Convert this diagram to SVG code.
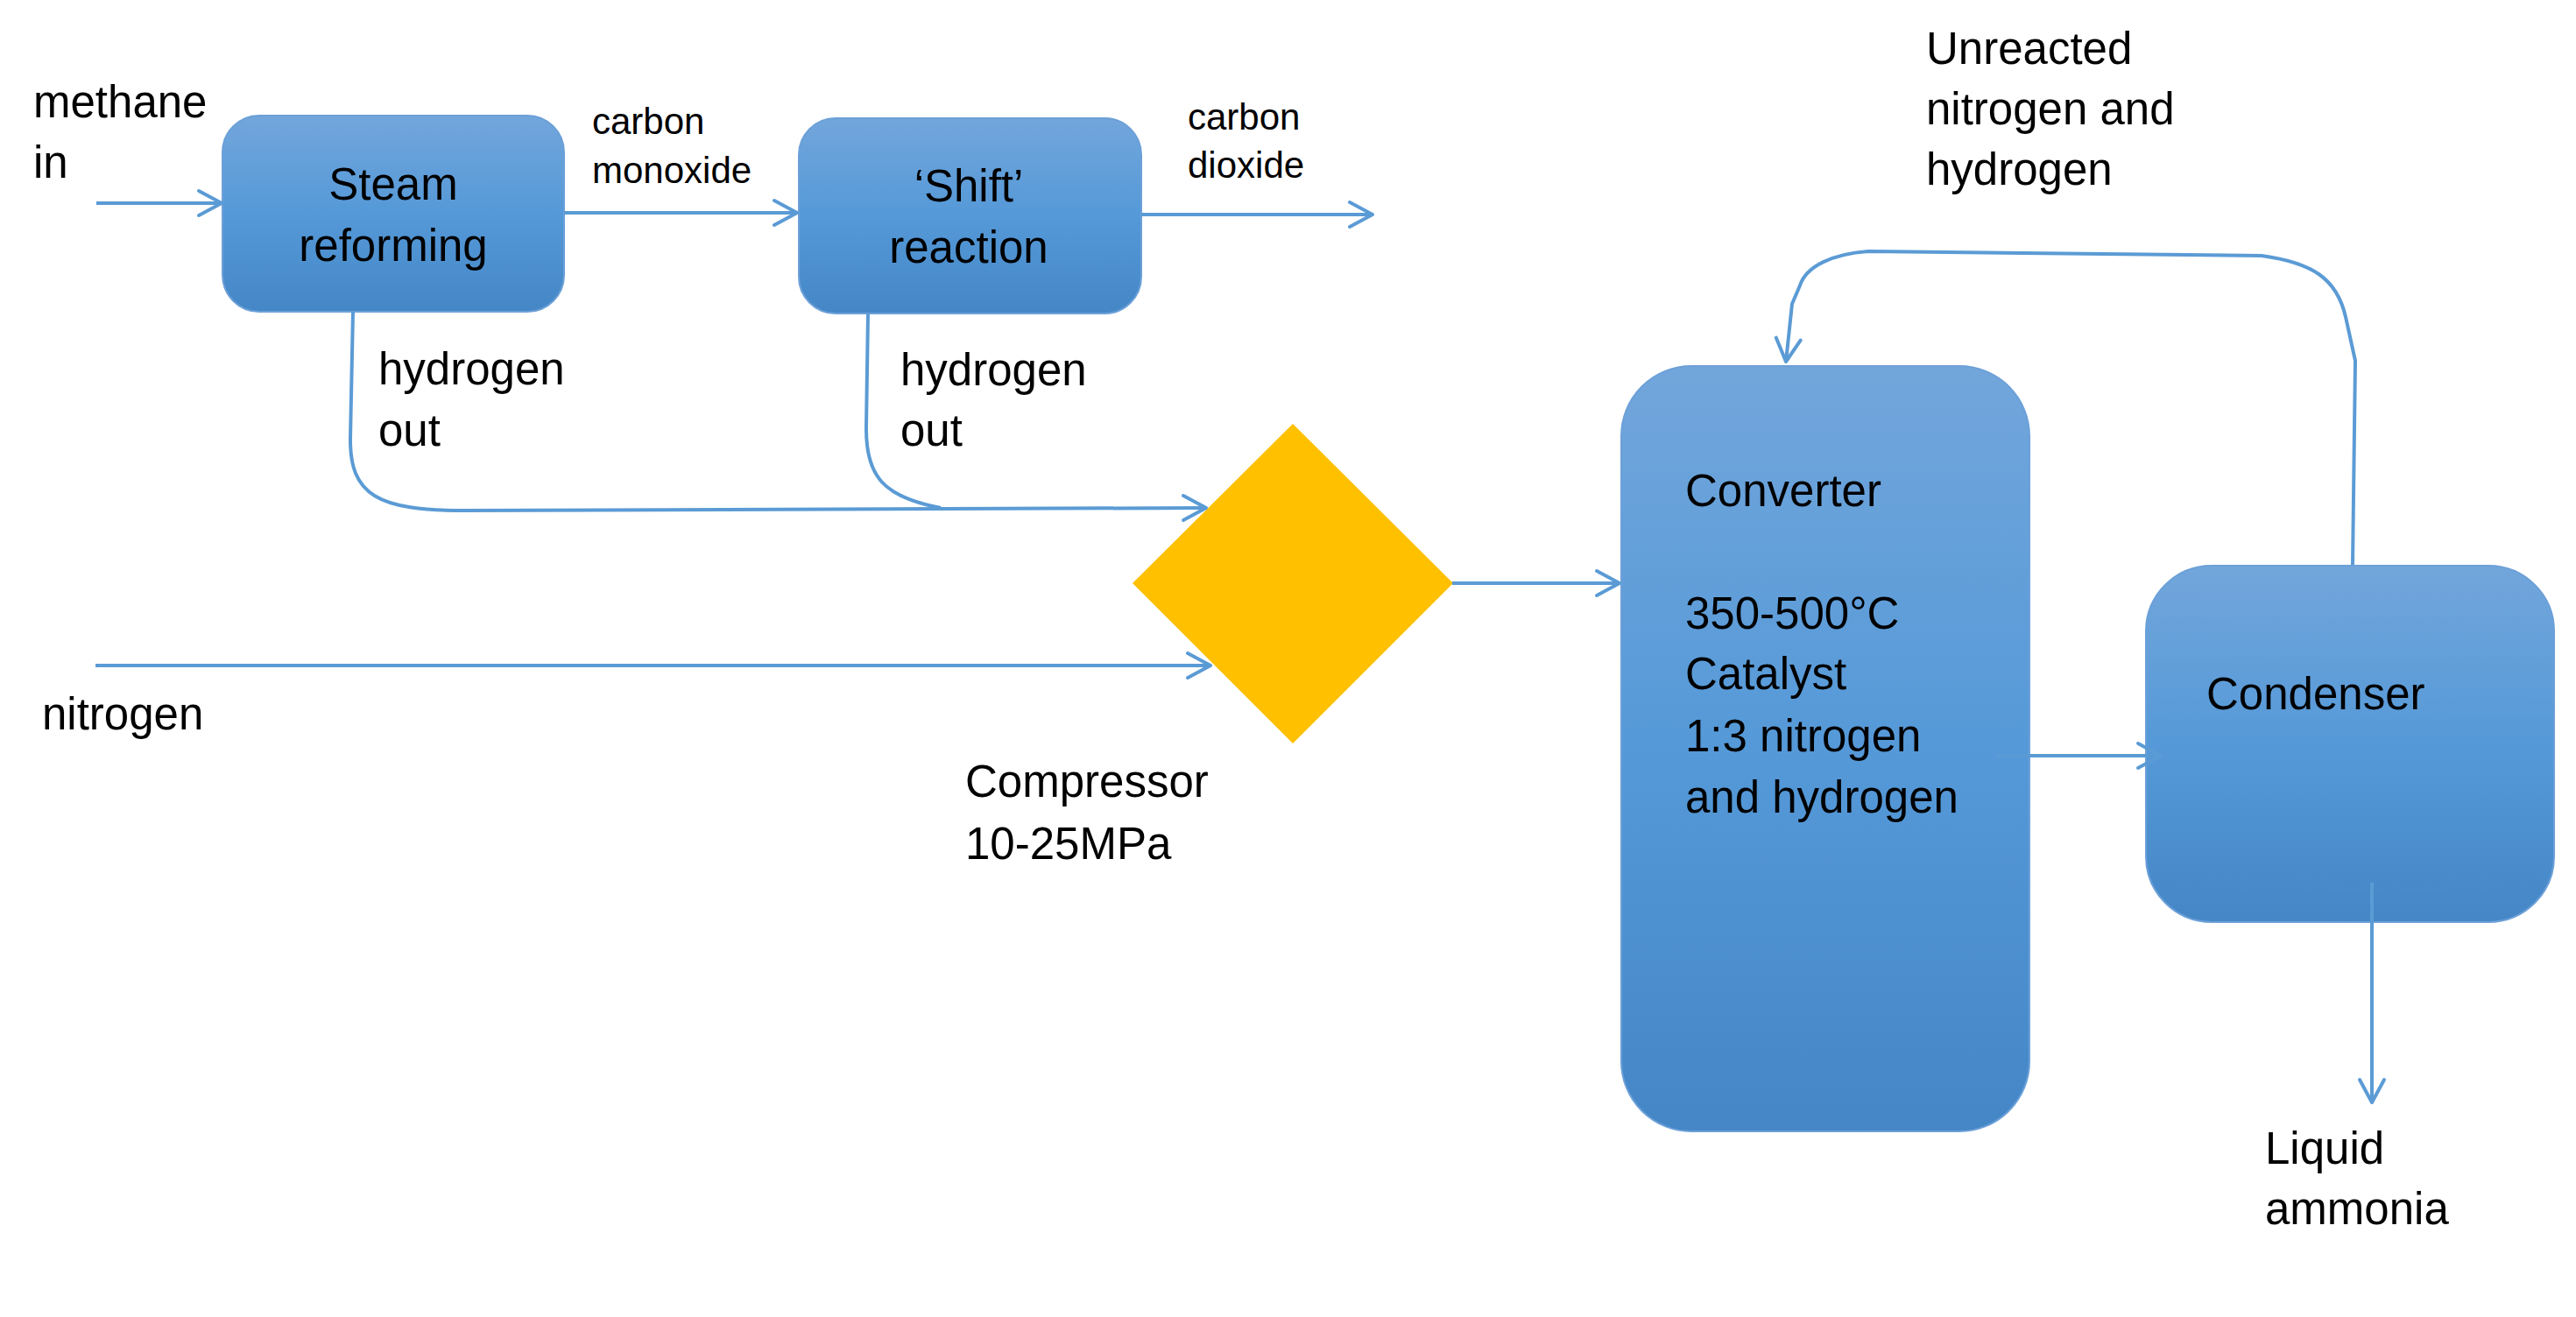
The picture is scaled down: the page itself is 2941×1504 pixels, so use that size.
<svg xmlns="http://www.w3.org/2000/svg" width="2941" height="1504" viewBox="0 0 2941 1504">
<defs>
<linearGradient id="blueGrad" x1="0" y1="0" x2="0" y2="1">
<stop offset="0" stop-color="#72A6DB"/>
<stop offset="0.5" stop-color="#5599D8"/>
<stop offset="1" stop-color="#4587C6"/>
</linearGradient>
<marker id="arrow" markerUnits="userSpaceOnUse" viewBox="0 0 34 34" refX="29" refY="17" markerWidth="34" markerHeight="34" orient="auto">
<path d="M3,3 L29,17 L3,31" fill="none" stroke="#5B9BD5" stroke-width="4" stroke-linecap="round" stroke-linejoin="round"/>
</marker>
<style>
.box{fill:url(#blueGrad);stroke:#6CA0D8;stroke-width:2}
.conn{fill:none;stroke:#5B9BD5;stroke-width:4;stroke-linejoin:round}
.arr{marker-end:url(#arrow)}
.big{font-family:"Liberation Sans",Arial,sans-serif;font-size:51px;fill:#000}
.small{font-family:"Liberation Sans",Arial,sans-serif;font-size:42px;fill:#000}
.mid{text-anchor:middle}
</style>
</defs>
<rect width="2941" height="1504" fill="#fff"/>

<g id="steam-reforming">
<rect class="box" x="254" y="132" width="390" height="224" rx="42" ry="42"/>
<text class="big mid" x="449" y="228">Steam</text>
<text class="big mid" x="449" y="298">reforming</text>
</g>

<g id="shift-reaction">
<rect class="box" x="912" y="135" width="391" height="223" rx="42" ry="42"/>
<text class="big mid" x="1106" y="230">‘Shift’</text>
<text class="big mid" x="1106" y="300">reaction</text>
</g>

<g id="compressor">
<polygon points="1476,484 1659,666 1476,849 1293,666" fill="#FFC000"/>
<text class="big" x="1102" y="910">Compressor</text>
<text class="big" x="1102" y="981">10-25MPa</text>
</g>

<g id="converter">
<rect class="box" x="1851" y="418" width="466" height="874" rx="80" ry="80"/>
<text class="big" x="1924" y="578">Converter</text>
<text class="big" x="1924" y="718">350-500°C</text>
<text class="big" x="1924" y="787">Catalyst</text>
<text class="big" x="1924" y="858">1:3 nitrogen</text>
<text class="big" x="1924" y="928">and hydrogen</text>
</g>

<g id="condenser">
<rect class="box" x="2450" y="646" width="466" height="407" rx="75" ry="75"/>
<text class="big" x="2519" y="810">Condenser</text>
</g>

<g id="connectors">
<path class="conn arr" d="M110,232 L253,232"/>
<path class="conn arr" d="M644,243 L910,243"/>
<path class="conn arr" d="M1303,245 L1567,245"/>
<path class="conn arr" d="M403,356 L400,500 C399,566 432,583 530,583 L1377,580"/>
<path class="conn" d="M991,358 L989,487 C988,545 1010,568 1074,580"/>
<path class="conn arr" d="M109,760 L1382,760"/>
<path class="conn arr" d="M1658,666 L1849,666"/>
<path class="conn arr" d="M2280,863 L2467,863"/>
<path class="conn arr" d="M2708,1008 L2708,1259"/>
<path class="conn arr" d="M2686,645 L2689,412 L2678,362 C2668,318 2640,300 2582,292 L2133,287 C2092,290 2062,304 2055,326 L2046,347 L2039,413"/>
</g>

<g id="labels">
<text class="big" x="38" y="134">methane</text>
<text class="big" x="38" y="203">in</text>
<text class="small" x="676" y="153">carbon</text>
<text class="small" x="676" y="209">monoxide</text>
<text class="small" x="1356" y="148">carbon</text>
<text class="small" x="1356" y="203">dioxide</text>
<text class="big" x="432" y="439">hydrogen</text>
<text class="big" x="432" y="509">out</text>
<text class="big" x="1028" y="440">hydrogen</text>
<text class="big" x="1028" y="509">out</text>
<text class="big" x="48" y="833">nitrogen</text>
<text class="big" x="2199" y="73">Unreacted</text>
<text class="big" x="2199" y="142">nitrogen and</text>
<text class="big" x="2199" y="211">hydrogen</text>
<text class="big" x="2586" y="1329">Liquid</text>
<text class="big" x="2586" y="1398">ammonia</text>
</g>
</svg>
